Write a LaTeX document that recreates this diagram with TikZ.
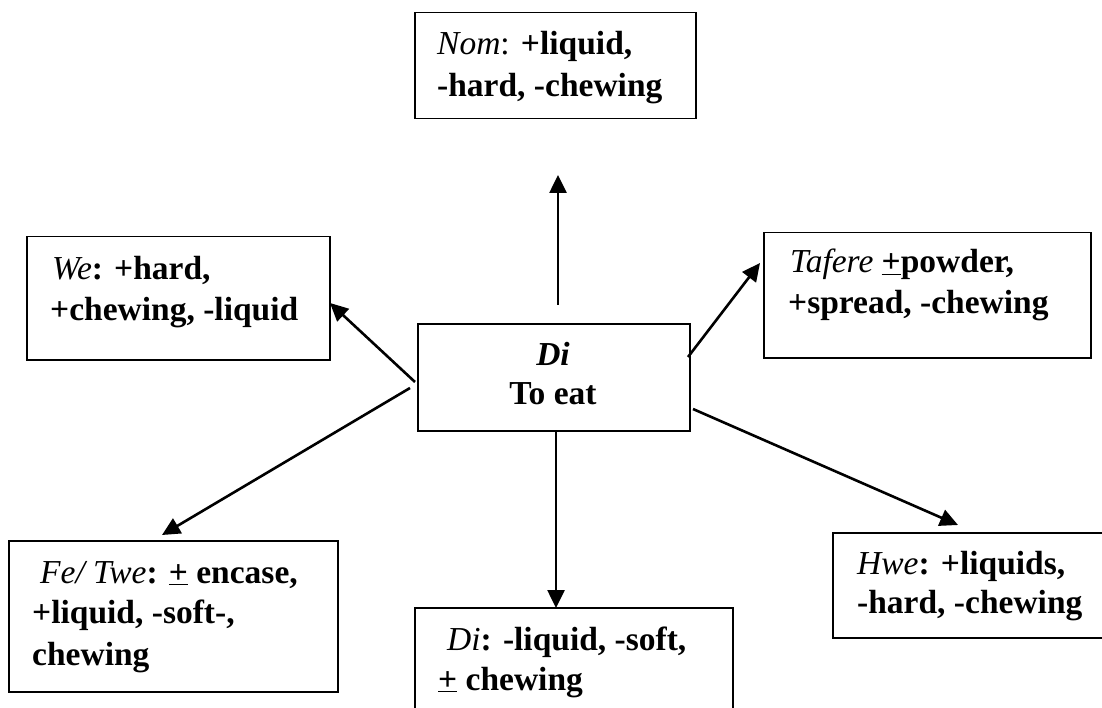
\documentclass[tikz,border=0pt]{standalone}
\usepackage{fontspec}
\setmainfont{Liberation Serif}
\usetikzlibrary{arrows.meta,calc}
\begin{document}
\begin{tikzpicture}[x=1pt,y=-1pt,
  box/.style={draw, line width=1.5pt, rectangle, inner sep=0pt, anchor=north west},
  txt/.style={anchor=base west, inner sep=0pt, font=\fontsize{33.5}{40}\selectfont\bfseries},
  ctxt/.style={txt, anchor=base},
  arr/.style={line width=2.6pt, -{Triangle[length=18pt,width=17pt]}}]
\useasboundingbox (0,0) rectangle (1102,708);

% boxes
\node[box, minimum width=281pt, minimum height=106pt] (nom) at (414,12) {};
\node[box, minimum width=303pt, minimum height=123pt] (we) at (26,236) {};
\node[box, minimum width=327pt, minimum height=125pt] (taf) at (763,232) {};
\node[box, minimum width=272pt, minimum height=107pt] (di) at (417,323) {};
\node[box, minimum width=329pt, minimum height=151pt] (fe) at (8,540) {};
\node[box, minimum width=318pt, minimum height=110pt] (dib) at (414,607) {};
\node[box, minimum width=275pt, minimum height=105pt] (hwe) at (832,532) {};

% texts
\node[txt] (nom1) at (437,55) {{\mdseries\itshape Nom}{\mdseries:} +liquid,};
\node[txt] (nom2) at (437,97) {-hard, -chewing};

\node[txt] (we1) at (52,280) {{\mdseries\itshape We}: +hard,};
\node[txt] (we2) at (50,320) {+chewing, -liquid};

\node[txt] (taf1) at (790,273) {{\mdseries\itshape Tafere} \underline{+}powder,};
\node[txt] (taf2) at (788,313) {+spread, -chewing};

\node[ctxt] (di1) at (553,365) {\itshape Di};
\node[ctxt] (di2) at (553,404) {To eat};

\node[txt] (fe1) at (40,583) {{\mdseries\itshape Fe/ Twe}: \underline{+} encase,};
\node[txt] (fe2) at (32,623) {+liquid, -soft-,};
\node[txt] (fe3) at (32,665) {chewing};

\node[txt] (dib1) at (447,650) {{\mdseries\itshape Di}: -liquid, -soft,};
\node[txt] (dib2) at (438,690) {\underline{+} chewing};

\node[txt] (hwe1) at (857,574) {{\mdseries\itshape Hwe}: +liquids,};
\node[txt] (hwe2) at (857,613) {-hard, -chewing};

% connector end points
\coordinate (aUs) at (558,305);  \coordinate (aUe) at (558,175);
\coordinate (aWs) at (415,382);  \coordinate (aWe) at (330,303);
\coordinate (aFs) at (410,388);  \coordinate (aFe) at (162,535);
\coordinate (aDs) at (556,430);  \coordinate (aDe) at (556,608);
\coordinate (aHs) at (693,409);  \coordinate (aHe) at (958,525);
\coordinate (aTs) at (688,357);  \coordinate (aTe) at (760,263);

\draw[arr] (aUs) -- (aUe);
\draw[arr] (aWs) -- (aWe);
\draw[arr] (aFs) -- (aFe);
\draw[arr] (aDs) -- (aDe);
\draw[arr] (aHs) -- (aHe);
\draw[arr] (aTs) -- (aTe);
\end{tikzpicture}
\end{document}
